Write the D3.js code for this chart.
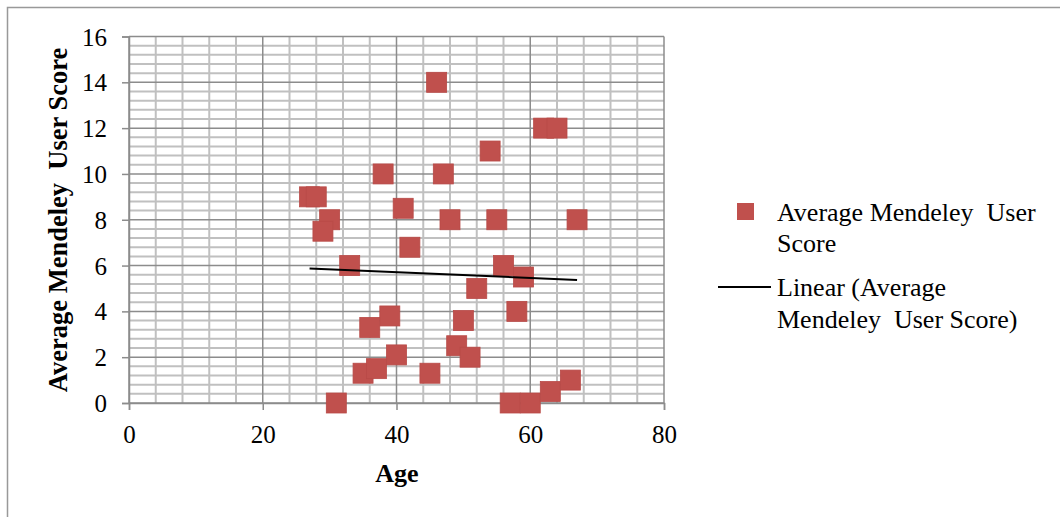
<!DOCTYPE html>
<html><head><meta charset="utf-8">
<script src="https://cdn.jsdelivr.net/npm/d3@7/dist/d3.min.js"></script>
<style>body{margin:0;background:#fff;} text{font-family:"Liberation Serif","Times New Roman",serif;}</style>
</head><body>
<script>
const ages   = [27,28,30,29,33,31,35,37,36,39,40,38,41,42,46,47,48,45,49,50,51,52,54,55,56,57,59,58,60,62,64,63,66,67];
const scores = [9,9,8,7.5,6,0,1.3,1.5,3.3,3.8,2.1,10,8.5,6.8,14,10,8,1.3,2.5,3.6,2,5,11,8,6,0,5.5,4,0,12,12,0.5,1,8];
const xTicks = [0,20,40,60,80];
const yTicks = [0,2,4,6,8,10,12,14,16];
const xTitle = "Age", yTitle = "Average Mendeley  User Score";

const W=1060,H=517;
const svg=d3.select("body").append("svg").attr("width",W).attr("height",H);
svg.append("rect").attr("x",7.5).attr("y",7.5).attr("width",W).attr("height",H).attr("fill","#fff").attr("stroke","#999").attr("stroke-width",1.5);

const x=d3.scaleLinear().domain([0,80]).range([129,664]);
const y=d3.scaleLinear().domain([0,16]).range([403,36.5]);

const g=svg.append("g");
d3.range(0,16.001,0.4).forEach(v=>{
  const major=Math.abs(v/2-Math.round(v/2))<1e-6;
  if(!major) g.append("line").attr("x1",x(0)).attr("x2",x(80)).attr("y1",y(v)).attr("y2",y(v)).attr("stroke","#c0c0c0").attr("stroke-width",2);
});
d3.range(0,80.001,4).forEach(v=>{
  if(v%20!==0) g.append("line").attr("y1",y(0)).attr("y2",y(16)).attr("x1",x(v)).attr("x2",x(v)).attr("stroke","#c0c0c0").attr("stroke-width",2);
});
yTicks.forEach(v=>g.append("line").attr("x1",x(0)).attr("x2",x(80)).attr("y1",y(v)).attr("y2",y(v)).attr("stroke","#8c8c8c").attr("stroke-width",1.5));
xTicks.forEach(v=>g.append("line").attr("y1",y(0)).attr("y2",y(16)).attr("x1",x(v)).attr("x2",x(v)).attr("stroke","#8c8c8c").attr("stroke-width",1.5));

const xAxis=svg.append("g").attr("transform",`translate(0,${y(0)})`).call(d3.axisBottom(x).tickValues(xTicks).tickSize(7).tickPadding(13));
const yAxis=svg.append("g").attr("transform",`translate(${x(0)},0)`).call(d3.axisLeft(y).tickValues(yTicks).tickSize(7).tickPadding(15));
[xAxis,yAxis].forEach(a=>{
  a.attr("font-size",null).attr("font-family",null);
  a.select(".domain").attr("stroke","#8c8c8c").attr("stroke-width",1.5);
  a.selectAll(".tick line").attr("stroke","#8c8c8c").attr("stroke-width",1.5);
  a.selectAll("text").style("font-size","25px").attr("fill","#000");
});
yAxis.selectAll("text").attr("dy","0.34em");
xAxis.selectAll("text").attr("dy","0.78em");

const s=20;
svg.append("g").selectAll("rect").data(ages.map((a,i)=>[a,scores[i]])).join("rect")
  .attr("x",d=>x(d[0])-s/2).attr("y",d=>y(d[1])-s/2).attr("width",s).attr("height",s)
  .attr("fill","#c0504d").attr("stroke","#b84a47").attr("stroke-width",0.8);

const mx=d3.mean(ages), my=d3.mean(scores);
const slope=d3.sum(ages,(a,i)=>(a-mx)*(scores[i]-my))/d3.sum(ages,a=>(a-mx)*(a-mx));
const icpt=my-slope*mx;
const [x0,x1]=d3.extent(ages);
svg.append("line").attr("x1",x(x0)).attr("x2",x(x1)).attr("y1",y(icpt+slope*x0)).attr("y2",y(icpt+slope*x1)).attr("stroke","#000").attr("stroke-width",2);

svg.append("text").attr("x",397).attr("y",482).attr("text-anchor","middle").style("font-size","26px").attr("font-weight","bold").text(xTitle);
svg.append("text").attr("transform",`translate(67,220) rotate(-90)`).attr("text-anchor","middle").style("font-size","26.5px").attr("font-weight","bold").style("white-space","pre").text(yTitle);

const lg=svg.append("g").style("font-size","26px");
lg.append("rect").attr("x",737).attr("y",203).attr("width",17).attr("height",17).attr("fill","#c0504d");
lg.append("text").attr("x",777).attr("y",221).style("white-space","pre").text("Average Mendeley  User");
lg.append("text").attr("x",777).attr("y",252).text("Score");
lg.append("line").attr("x1",718).attr("x2",771).attr("y1",287).attr("y2",287).attr("stroke","#000").attr("stroke-width",2);
lg.append("text").attr("x",777).attr("y",296).text("Linear (Average");
lg.append("text").attr("x",777).attr("y",328).style("white-space","pre").text("Mendeley  User Score)");
</script>
</body></html>
